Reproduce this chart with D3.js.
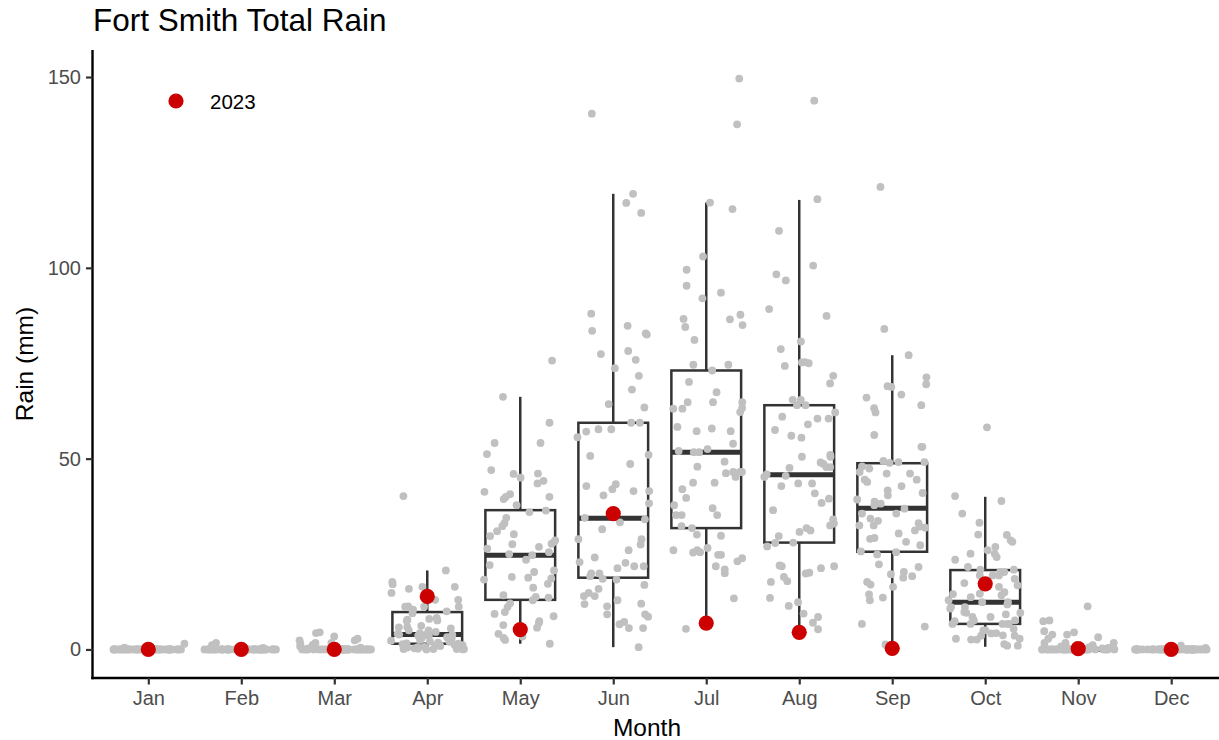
<!DOCTYPE html>
<meta charset="utf-8">
<style>
body { margin: 0; background: #fff; }
svg { font-family: "Liberation Sans", Arial, Helvetica, sans-serif; }
</style>
<body>
<div id="chart"></div>
<script src="https://cdn.jsdelivr.net/npm/d3@7/dist/d3.min.js"></script>
<script>
var months = ["Jan", "Feb", "Mar", "Apr", "May", "Jun", "Jul", "Aug", "Sep", "Oct", "Nov", "Dec"];

// monthly totals, one value per year
var rainJan = [1.5, 0.3, 0.5, 0.2, 0, 0, 0, 0, 0, 0, 0, 0, 0, 0, 0, 0, 0, 0, 0, 0, 0, 0, 0, 0, 0, 0, 0, 0, 0, 0, 0, 0, 0, 0, 0, 0, 0, 0, 0, 0, 0, 0, 0, 0, 0, 0, 0, 0, 0, 0, 0, 0, 0, 0, 0];
var rainFeb = [1.1, 1.7, 0.4, 0.3, 0, 0, 0, 0, 0, 0, 0, 0, 0, 0, 0, 0, 0, 0, 0, 0, 0, 0, 0, 0, 0, 0, 0, 0, 0, 0, 0, 0, 0, 0, 0, 0, 0, 0, 0, 0, 0, 0, 0, 0, 0, 0, 0, 0, 0, 0, 0, 0, 0, 0, 0];
var rainMar = [4.3, 3.4, 2.8, 2.4, 1.5, 4.5, 2.4, 1.7, 1.7, 0.8, 0.5, 0.3, 1.2, 0, 0, 0, 0, 0, 0, 0, 0, 0, 0, 0, 0, 0, 0, 0, 0, 0, 0, 0, 0, 0, 0, 0, 0, 0, 0, 0, 0, 0, 0, 0, 0, 0, 0, 0, 0, 0, 0, 0, 0, 0, 0];
var rainApr = [40.2, 20.7, 17.7, 17.1, 16.4, 16.4, 15.9, 14.8, 13.0, 13.0, 11.3, 11.2, 11.2, 11.2, 10.4, 10.0, 9.5, 8.3, 8.0, 7.8, 7.6, 7.5, 5.9, 5.8, 5.5, 5.0, 5.0, 4.3, 4.1, 3.6, 3.6, 3.2, 3.9, 3.9, 3.8, 2.5, 2.3, 2.1, 2.0, 1.8, 1.6, 1.5, 1.4, 1.2, 1.0, 0.9, 0.8, 0.6, 0.5, 0.3, 0.1, 0.1, 0.1, 0.1, 0.2, 0, 0, 2.8, 3.0, 4.6, 6.2, 1.1, 0.7];
var rainMay = [75.7, 66.2, 59.4, 54.1, 54.1, 51.2, 47, 46, 45, 46.1, 43.5, 41.3, 40.7, 40, 40, 39.4, 37.8, 36, 36.4, 33.1, 32.3, 31, 29.7, 28.6, 28.2, 27.7, 27.6, 26.4, 25.5, 25, 24.7, 23.5, 20.7, 20.3, 19, 18.8, 18.6, 18.3, 16.2, 14.2, 13.8, 13.6, 12.9, 11.1, 9.8, 9.3, 8.7, 7.4, 6.9, 6.4, 5.7, 4.1, 3.4, 2.5, 1.5, 3.0, 22.1, 30.2, 34.5, 17.2, 12.1, 26.9, 44.2];
var rainJun = [140.4, 119.4, 117, 114.4, 88, 84.8, 82.8, 82.5, 83.5, 78.2, 77.4, 75.9, 73.7, 71.7, 68.1, 64.3, 63.4, 59.4, 59.4, 57.7, 57.7, 57.1, 55.6, 51, 50.7, 48.6, 43.3, 42.8, 42, 41.5, 41.5, 40.4, 38.3, 34.5, 34.1, 33.3, 31.5, 28.9, 28.9, 27.5, 26, 24.1, 22.9, 22.7, 21.8, 21.8, 21.3, 19.9, 19.9, 19.2, 18.5, 18.3, 16.9, 15.9, 14.8, 14, 14, 12.9, 11.9, 12, 11.3, 9.2, 9.2, 8.6, 7.2, 6.6, 5.6, 5.6, 0.6];
var rainJul = [149.6, 137.6, 117.1, 115.4, 103, 99.5, 95.3, 93.5, 92, 87.7, 86.5, 86.6, 85, 84.5, 81.1, 74.6, 74.6, 73.1, 70.1, 67.4, 64.8, 64.8, 64.8, 63.1, 63.1, 63.3, 62.2, 58.3, 57.9, 57.2, 57.2, 53.9, 52.5, 52, 51.7, 51.7, 49.2, 47.9, 46.5, 46.5, 46.2, 46.5, 45.2, 43.7, 43.7, 42, 39.7, 37.8, 37, 35.2, 35.2, 35.2, 32.3, 31.8, 30.1, 29.8, 26.6, 26, 26, 25.5, 25.4, 24.8, 24.8, 23.9, 23.1, 21.8, 21, 20, 13.4, 5.4];
var rainAug = [143.8, 118, 109.7, 100.6, 98.3, 96.7, 89.2, 87.4, 80.7, 78.7, 75.2, 75.3, 75, 74.3, 71.7, 69.7, 65.4, 65.4, 64, 64, 62.1, 60.5, 60.5, 61, 59, 57.5, 56, 55.5, 50.5, 50.5, 51, 49, 48.6, 47.8, 47.8, 47.6, 45.9, 45.5, 45.2, 43.5, 43.5, 42.8, 40.9, 39.5, 38.4, 36.5, 34.1, 33, 32.5, 31.8, 31.2, 30.8, 29.7, 28, 27.9, 27, 22, 21.3, 21.8, 21.8, 20.1, 19.9, 19, 17.9, 17.7, 13.5, 12.4, 11.4, 9.4, 8.5, 7, 5.3];
var rainSep = [121.2, 84, 77.1, 71.3, 69.5, 69, 68.8, 66.8, 66, 64, 63.2, 62.1, 56.2, 53.1, 53.1, 49.4, 48.9, 49.1, 49.1, 48, 47.4, 46.5, 46.1, 46.1, 44.5, 44.5, 43.9, 42.8, 41.7, 41, 40.4, 39.3, 38.7, 38.2, 37.8, 36.9, 35.6, 35.6, 34.3, 33.7, 33.1, 32.5, 32.5, 32.2, 31.9, 31.2, 30.4, 29.2, 29, 28.2, 27.3, 25.7, 25.5, 24.9, 22.3, 21.6, 20.3, 19.7, 19.2, 18.8, 17.7, 17, 16.4, 14.4, 13.6, 12.9, 6.7, 6, 1.3];
var rainOct = [58.2, 40.2, 38.9, 35.6, 33.2, 30.1, 30, 28.6, 28.2, 26.9, 26, 25.1, 25.1, 24.2, 23.5, 21.6, 20.9, 20.9, 20.3, 20.3, 19.4, 19.4, 19.4, 18.5, 17.4, 16.8, 16.4, 15, 14.6, 14.5, 14.2, 13.7, 12.9, 12.4, 12.4, 11.8, 11.1, 11.1, 10.7, 9.8, 9.6, 9.6, 9.2, 8.5, 8.5, 7.6, 7.6, 7.4, 6.7, 6.7, 6.7, 6.7, 6.7, 5.4, 5, 5, 4.3, 4.2, 3.7, 3.6, 3.6, 2.8, 2.8, 2.6, 2.6, 1, 1, 1.4];
var rainNov = [11.3, 7.4, 7.6, 4.8, 3.9, 4.5, 3.9, 3.2, 2.8, 1.7, 1.7, 1.7, 1.1, 1.1, 0.8, 0.6, 0.5, 0.4, 0.3, 0.2, 0, 0, 0, 0, 0, 0, 0, 0, 0, 0, 0, 0, 0, 0, 0, 0, 0, 0, 0, 0, 0, 0, 0, 0, 0, 0, 0, 0, 0, 0, 0, 0, 0, 0, 0];
var rainDec = [1.0, 0.4, 0.2, 0, 0, 0, 0, 0, 0, 0, 0, 0, 0, 0, 0, 0, 0, 0, 0, 0, 0, 0, 0, 0, 0, 0, 0, 0, 0, 0, 0, 0, 0, 0, 0, 0, 0, 0, 0, 0, 0, 0, 0, 0, 0, 0, 0, 0, 0, 0, 0, 0, 0, 0, 0];
var rainByMonth = [rainJan, rainFeb, rainMar, rainApr, rainMay, rainJun, rainJul, rainAug, rainSep, rainOct, rainNov, rainDec];

// box statistics per month
var whiskerLow = [0, 0, 0, 0, 1.5, 0.6, 5.4, 5.3, 0.3, 0.7, 0, 0];
var q1 = [0, 0, 0, 1.5, 13.0, 18.8, 31.8, 28.0, 25.6, 6.7, 0, 0];
var median = [0, 0, 0, 3.9, 24.7, 34.4, 51.7, 45.8, 37.0, 12.4, 0, 0];
var q3 = [0, 0, 0, 9.8, 36.5, 59.4, 73.1, 64.0, 48.8, 20.8, 0.3, 0];
var whiskerHigh = [0, 0, 0, 20.7, 66.2, 119.4, 117.1, 117.8, 77.1, 40.0, 0.7, 0];

var rain2023 = [0, 0, 0, 13.9, 5.2, 35.6, 6.9, 4.5, 0.3, 17.2, 0.2, 0];

var yTicks = [0, 50, 100, 150];

var width = 1219, height = 740;
var panel = {left: 92.5, right: 1227, top: 50, bottom: 678};

var svg = d3.select("#chart").append("svg")
    .attr("width", width)
    .attr("height", height);

var x = d3.scalePoint()
    .domain(months)
    .range([panel.left, panel.right])
    .padding(0.6);
var step = x.step();

var allValues = d3.merge(rainByMonth).concat(rain2023);
var yMax = d3.max(allValues), yMin = d3.min(allValues);
var pad = (yMax - yMin) * 0.05;
var y = d3.scaleLinear()
    .domain([yMin - pad, yMax + pad])
    .range([panel.bottom, panel.top]);

var boxes = months.map(function(m, i) {
    return {month: m, lo: whiskerLow[i], q1: q1[i], med: median[i], q3: q3[i], hi: whiskerHigh[i]};
});

var boxW = step * 0.75;
var boxColor = "#333333";

var bg = svg.append("g");
bg.selectAll("line.whisker-hi").data(boxes).enter().append("line")
    .attr("x1", function(d) { return x(d.month); })
    .attr("x2", function(d) { return x(d.month); })
    .attr("y1", function(d) { return y(d.q3); })
    .attr("y2", function(d) { return y(d.hi); })
    .attr("stroke", boxColor).attr("stroke-width", 2.5);
bg.selectAll("line.whisker-lo").data(boxes).enter().append("line")
    .attr("x1", function(d) { return x(d.month); })
    .attr("x2", function(d) { return x(d.month); })
    .attr("y1", function(d) { return y(d.q1); })
    .attr("y2", function(d) { return y(d.lo); })
    .attr("stroke", boxColor).attr("stroke-width", 2.5);
bg.selectAll("rect").data(boxes).enter().append("rect")
    .attr("x", function(d) { return x(d.month) - boxW / 2; })
    .attr("width", boxW)
    .attr("y", function(d) { return y(d.q3); })
    .attr("height", function(d) { return y(d.q1) - y(d.q3); })
    .attr("fill", "#fff")
    .attr("stroke", boxColor).attr("stroke-width", 2.5);
bg.selectAll("line.median").data(boxes).enter().append("line")
    .attr("x1", function(d) { return x(d.month) - boxW / 2; })
    .attr("x2", function(d) { return x(d.month) + boxW / 2; })
    .attr("y1", function(d) { return y(d.med); })
    .attr("y2", function(d) { return y(d.med); })
    .attr("stroke", boxColor).attr("stroke-width", 5);

// jittered points (fixed seed so the layout is stable)
var jitter = d3.randomUniform.source(d3.randomLcg(0.27))(-0.4, 0.4);
var points = [];
rainByMonth.forEach(function(vals, i) {
    vals.forEach(function(v) {
        points.push({month: months[i], value: v, dx: jitter() * step});
    });
});

svg.append("g").selectAll("circle").data(points).enter().append("circle")
    .attr("cx", function(d) { return x(d.month) + d.dx; })
    .attr("cy", function(d) { return y(d.value); })
    .attr("r", 3.9)
    .attr("fill", "#c0c0c0");

svg.append("g").selectAll("circle").data(rain2023).enter().append("circle")
    .attr("cx", function(d, i) { return x(months[i]); })
    .attr("cy", function(d) { return y(d); })
    .attr("r", 7.6)
    .attr("fill", "#cc0000");

// axes
var yAxis = svg.append("g")
    .attr("transform", "translate(" + panel.left + ",0)")
    .call(d3.axisLeft(y).tickValues(yTicks).tickSize(6.5).tickPadding(5));
var xAxis = svg.append("g")
    .attr("transform", "translate(0," + panel.bottom + ")")
    .call(d3.axisBottom(x).tickSize(6.5).tickPadding(6));

yAxis.select(".domain").attr("d", "M0," + panel.top + "V" + (panel.bottom + 1.2));
xAxis.select(".domain").attr("d", "M" + (panel.left - 1.2) + ",0H" + width);
[xAxis, yAxis].forEach(function(a) {
    a.select(".domain").attr("stroke", "#000").attr("stroke-width", 2.4);
    a.selectAll(".tick line").attr("stroke", "#333").attr("stroke-width", 2.2);
    a.selectAll(".tick text")
        .attr("fill", "#4d4d4d")
        .style("font-size", "20px")
        .style("font-family", "'Liberation Sans', Arial, sans-serif");
});

svg.append("text")
    .attr("x", 93).attr("y", 31)
    .style("font-size", "31.5px")
    .text("Fort Smith Total Rain");

svg.append("text")
    .attr("x", 647).attr("y", 736)
    .attr("text-anchor", "middle")
    .style("font-size", "24.5px")
    .text("Month");

svg.append("text")
    .attr("transform", "translate(33," + ((panel.top + panel.bottom) / 2) + ")rotate(-90)")
    .attr("text-anchor", "middle")
    .style("font-size", "24.5px")
    .text("Rain (mm)");

// legend
svg.append("circle")
    .attr("cx", 176).attr("cy", 101).attr("r", 7.6)
    .attr("fill", "#cc0000");
svg.append("text")
    .attr("x", 210).attr("y", 109)
    .style("font-size", "20.5px")
    .text("2023");
</script>
</body>
